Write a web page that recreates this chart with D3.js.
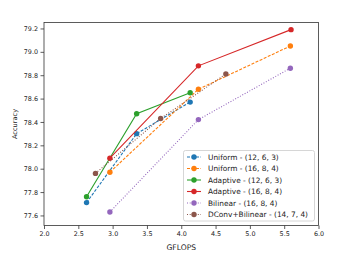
<!DOCTYPE html>
<html>
<head>
<meta charset="utf-8">
<script src="https://cdn.jsdelivr.net/npm/d3@7"></script>
<style>
  body { margin: 0; background: #fff; }
  text { font-family: "DejaVu Sans", sans-serif; fill: #222; }
</style>
</head>
<body>
<svg width="354" height="255"></svg>
<script>

// series names, colours and dash styles
var names = ["Uniform - (12, 6, 3)", "Uniform - (16, 8, 4)", "Adaptive - (12, 6, 3)",
             "Adaptive - (16, 8, 4)", "Bilinear - (16, 8, 4)", "DConv+Bilinear - (14, 7, 4)"]

// values: [GFLOPS, accuracy]
var uniform_12 = [[2.62, 77.71], [3.35, 78.30], [4.13, 78.57]]
var uniform_16 = [[2.96, 77.97], [4.25, 78.68], [5.59, 79.05]]
var adaptive_12 = [[2.62, 77.76], [3.35, 78.47], [4.13, 78.65]]
var adaptive_16 = [[2.96, 78.09], [4.25, 78.88], [5.60, 79.19]]
var bilinear_16 = [[2.96, 77.63], [4.25, 78.42], [5.59, 78.86]]
var dconv_14 = [[2.75, 77.96], [3.70, 78.43], [4.65, 78.81]]

var xTicks = [2.0, 2.5, 3.0, 3.5, 4.0, 4.5, 5.0, 5.5, 6.0]
var yTicks = [77.6, 77.8, 78.0, 78.2, 78.4, 78.6, 78.8, 79.0, 79.2]

var series = [uniform_12, uniform_16, adaptive_12, adaptive_16, bilinear_16, dconv_14]
var colors = ["#1f77b4", "#ff7f0e", "#2ca02c", "#d62728", "#9467bd", "#8c564b"]
var dashes = ["3,1.5", "3,1.5", null, null, "1,1.7", "1,1.7"]

var svg = d3.select("svg")

var pLeft = 44, pRight = 318.5, pTop = 22.5, pBottom = 225.5

var x = d3.scaleLinear().domain([2, 6]).range([pLeft, pRight])
var y = d3.scaleLinear().domain([77.514, 79.251]).range([pBottom, pTop])

// axes
svg.append("g")
  .attr("transform", "translate(0," + pBottom + ")")
  .call(d3.axisBottom(x).tickValues(xTicks).tickFormat(d3.format(".1f")).tickSize(3.5).tickPadding(2.5))
svg.append("g")
  .attr("transform", "translate(" + pLeft + ",0)")
  .call(d3.axisLeft(y).tickValues(yTicks).tickFormat(d3.format(".1f")).tickSize(3.5).tickPadding(2.5))

svg.selectAll(".domain").remove()
svg.selectAll(".tick line").style("stroke", "#333").style("stroke-width", 0.8)
svg.selectAll(".tick text").style("font-size", "6.4px").style("font-family", "DejaVu Sans").style("fill", "#222")

// frame
svg.append("rect")
  .attr("x", pLeft).attr("y", pTop)
  .attr("width", pRight - pLeft).attr("height", pBottom - pTop)
  .style("fill", "none").style("stroke", "#333").style("stroke-width", 0.8)

// axis labels
svg.append("text")
  .attr("x", (pLeft + pRight) / 2).attr("y", 249.5)
  .attr("text-anchor", "middle")
  .style("font-size", "7.6px")
  .text("GFLOPS")

svg.append("text")
  .attr("transform", "translate(16.5," + ((pTop + pBottom) / 2) + ") rotate(-90)")
  .attr("text-anchor", "middle")
  .style("font-size", "6.6px")
  .text("Accuracy")

// lines and markers
var line = d3.line().x(function(d){ return x(d[0]); }).y(function(d){ return y(d[1]); })

series.forEach(function(s, i){
  svg.append("path")
    .datum(s)
    .attr("d", line)
    .style("fill", "none")
    .style("stroke", colors[i])
    .style("stroke-width", 1.1)
    .style("stroke-dasharray", dashes[i])

  svg.selectAll(".m" + i).data(s).enter().append("circle")
    .attr("class", "m" + i)
    .attr("cx", function(d){ return x(d[0]); })
    .attr("cy", function(d){ return y(d[1]); })
    .attr("r", 2.7)
    .style("fill", colors[i])
})

// legend
var lg = svg.append("g")
lg.append("rect")
  .attr("x", 183.5).attr("y", 150.5).attr("width", 131).attr("height", 70.5)
  .attr("rx", 2)
  .style("fill", "#fff").style("fill-opacity", 0.8)
  .style("stroke", "#ccc").style("stroke-width", 0.8)

names.forEach(function(n, i){
  var yy = 157 + i * 11.5
  lg.append("line")
    .attr("x1", 187).attr("x2", 201).attr("y1", yy).attr("y2", yy)
    .style("stroke", colors[i]).style("stroke-width", 1.1)
    .style("stroke-dasharray", dashes[i])
  lg.append("circle").attr("cx", 194).attr("cy", yy).attr("r", 2.7).style("fill", colors[i])
  lg.append("text")
    .attr("x", 208).attr("y", yy + 2.6)
    .style("font-size", "7.4px")
    .text(n)
})

</script>
</body>
</html>
